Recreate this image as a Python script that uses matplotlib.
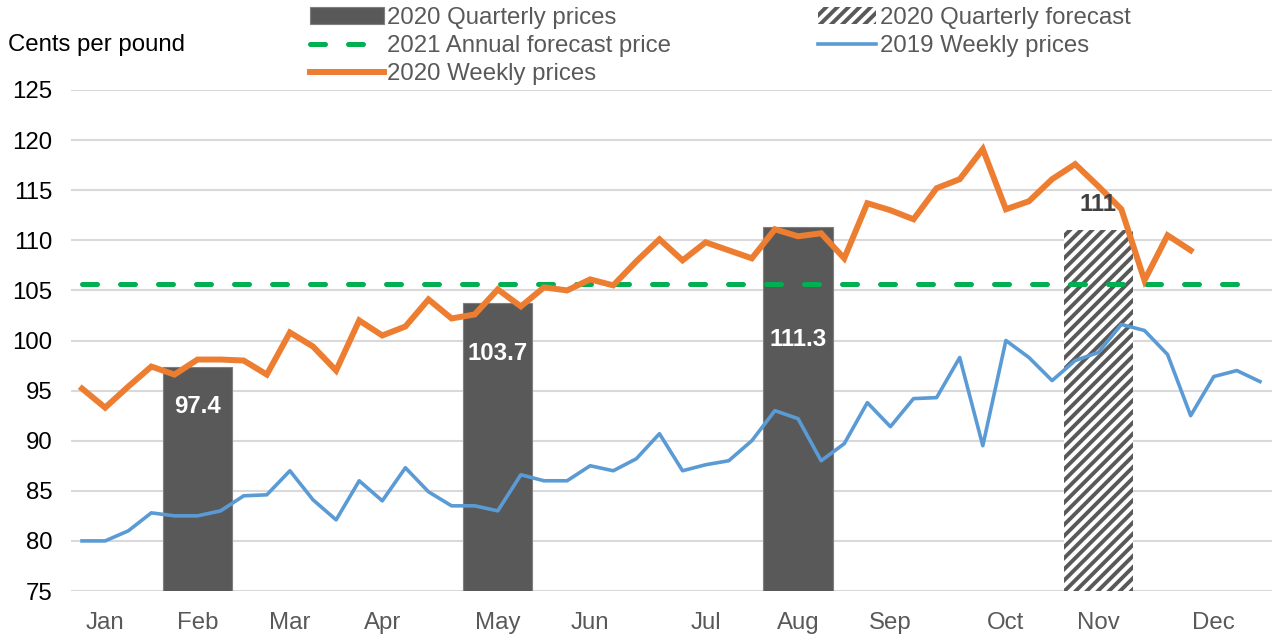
import numpy as np
import matplotlib
matplotlib.use("Agg")
import matplotlib.pyplot as plt

plt.rcParams['font.family'] = ['Liberation Sans', 'DejaVu Sans']
plt.rcParams['hatch.linewidth'] = 2.8

# weekly prices, cents per pound
prices_2019 = [80.0, 80.0, 81.0, 82.8, 82.5, 82.5, 83.0, 84.5, 84.6, 87.0,
               84.1, 82.1, 86.0, 84.0, 87.3, 84.9, 83.5, 83.5, 83.0, 86.6,
               86.0, 86.0, 87.5, 87.0, 88.2, 90.7, 87.0, 87.6, 88.0, 90.0,
               93.0, 92.2, 88.0, 89.7, 93.8, 91.4, 94.2, 94.3, 98.3, 89.5,
               100.0, 98.3, 96.0, 98.0, 98.8, 101.6, 101.0, 98.6, 92.5, 96.4,
               97.0, 95.9]
prices_2020 = [95.2, 93.3, 95.4, 97.4, 96.6, 98.1, 98.1, 98.0, 96.6, 100.8,
               99.4, 97.0, 102.0, 100.5, 101.4, 104.1, 102.2, 102.6, 105.1, 103.4,
               105.3, 105.0, 106.1, 105.5, 107.9, 110.1, 108.0, 109.8, 109.0, 108.2,
               111.1, 110.4, 110.7, 108.2, 113.7, 113.0, 112.1, 115.2, 116.1, 119.1,
               113.1, 113.9, 116.1, 117.6, 115.4, 113.1, 106.0, 110.5, 109.0]
forecast_2021 = 105.6

quarter_weeks = [5, 18, 31]
quarter_prices = [97.4, 103.7, 111.3]
quarter_label_offset = [-4.0, -4.95, -11.25]
forecast_week = [44]
forecast_price = [111.0]

month_weeks = [1, 5, 9, 13, 18, 22, 27, 31, 35, 40, 44, 49]
months = ['Jan', 'Feb', 'Mar', 'Apr', 'May', 'Jun', 'Jul', 'Aug', 'Sep', 'Oct', 'Nov', 'Dec']

W, H = 1274, 634
fig = plt.figure(figsize=(W / 100, H / 100), dpi=100)
ax = fig.add_axes([70.5 / W, (H - 591) / H, 1201 / W, 501 / H])

weeks = np.arange(len(prices_2019))
fs = 17.3

b1 = ax.bar(quarter_weeks, quarter_prices, width=3, color='#595959',
            edgecolor='#7f7f7f', linewidth=0.8, zorder=2)
l_fc, = ax.plot(weeks, [forecast_2021] * len(weeks), color='#00B050', lw=3.6,
                dashes=(3, 4.6), dash_capstyle='round', zorder=3)
l20, = ax.plot(np.arange(len(prices_2020)), prices_2020, color='#ED7D31', lw=4.3,
               solid_joinstyle='miter', zorder=4)
b2 = ax.bar(forecast_week, forecast_price, width=3, color='white', edgecolor='#595959',
            linewidth=0, hatch='///', zorder=2)
l19, = ax.plot(weeks, prices_2019, color='#5B9BD5', lw=2.6, zorder=3)

for x, v, off in zip(quarter_weeks, quarter_prices, quarter_label_offset):
    ax.text(x, v + off, f'{v:g}', ha='center', va='center', color='white',
            fontsize=fs, fontweight='bold', zorder=5)
ax.text(forecast_week[0], forecast_price[0] + 2.6, f'{forecast_price[0]:g}', ha='center',
        va='center', color='#404040', fontsize=fs, fontweight='bold', zorder=5)

ax.set_xlim(-0.5, len(weeks) - 0.5)
ax.set_ylim(75, 125)
ax.set_yticks(range(75, 126, 5))
ax.set_xticks(month_weeks)
ax.set_xticklabels(months)
ax.tick_params(axis='y', length=0, pad=13, labelsize=fs, labelcolor='black')
ax.tick_params(axis='x', length=0, pad=15, labelsize=fs, labelcolor='#595959')
ax.grid(axis='y', color='#D9D9D9', lw=1.5, zorder=0)
ax.set_axisbelow(True)
for s in ax.spines.values():
    s.set_visible(False)

fig.text(8 / W, 1 - 45 / H, 'Cents per pound', fontsize=fs, ha='left', va='center')

leg_kw = dict(loc='upper left', frameon=False, fontsize=fs, borderpad=0,
              borderaxespad=0, labelspacing=0.25, labelcolor='#595959')
leg1 = fig.legend([b1, l_fc, l20],
                  ['2020 Quarterly prices', '2021 Annual forecast price', '2020 Weekly prices'],
                  bbox_to_anchor=(310 / W, 1 - 7 / H), handlelength=3.1,
                  handletextpad=0.12, **leg_kw)
fig.legend([b2, l19], ['2020 Quarterly forecast', '2019 Weekly prices'],
           bbox_to_anchor=(818 / W, 1 - 7 / H), handlelength=2.4,
           handletextpad=0.2, **leg_kw)

fig.savefig('out.png', dpi=100)
